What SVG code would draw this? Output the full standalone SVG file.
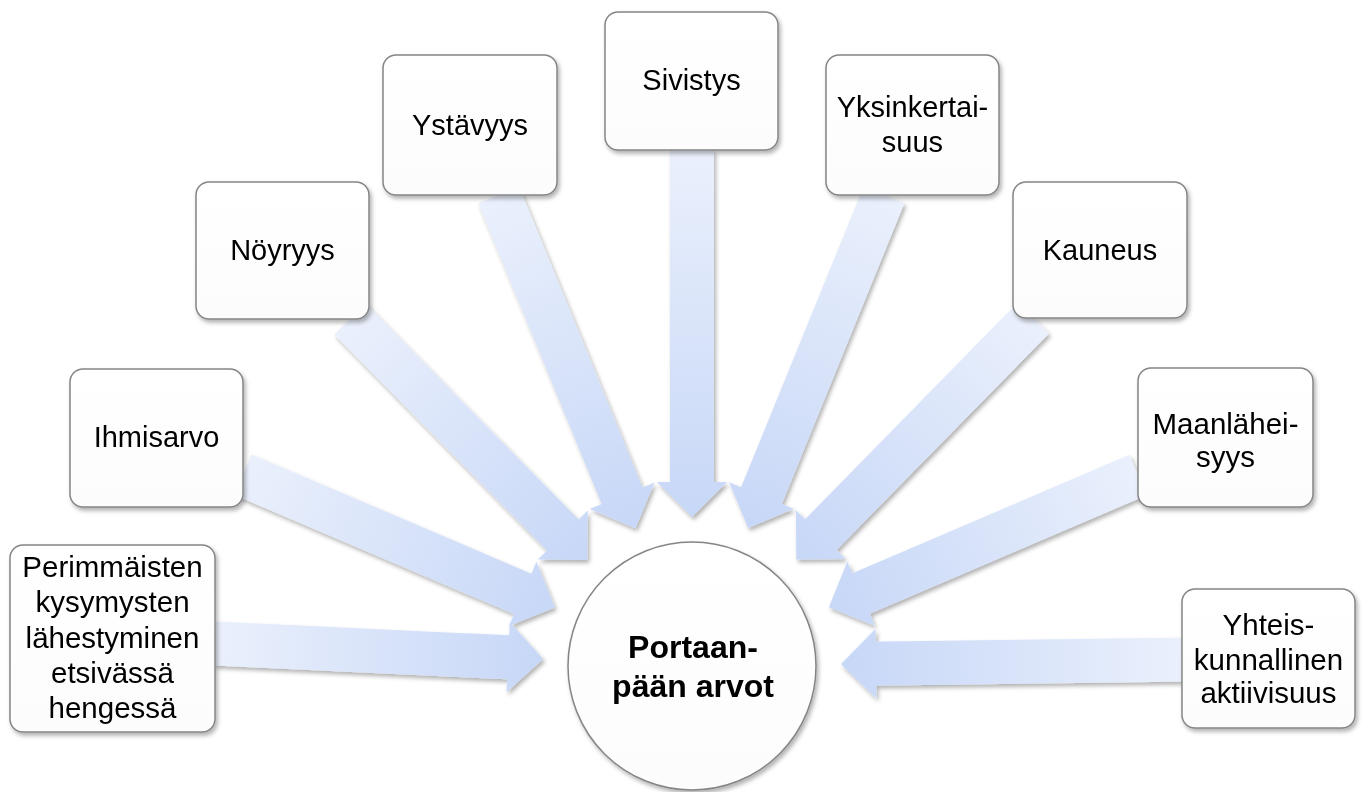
<svg xmlns="http://www.w3.org/2000/svg" width="1365" height="792" viewBox="0 0 1365 792">
<style>
.box{fill:url(#bg);stroke:#858585;stroke-width:1.5}
.t{font-family:"Liberation Sans",Arial,sans-serif;font-size:29px;fill:#000;text-anchor:middle}
.t2{font-size:29.5px}
.c{font-family:"Liberation Sans",Arial,sans-serif;font-size:32px;font-weight:bold;fill:#000;text-anchor:middle}
.arr{fill:url(#ag)}
</style>
<defs>
<linearGradient id="ag" x1="0" y1="0" x2="1" y2="0">
<stop offset="0" stop-color="#eaf0fc"/>
<stop offset="1" stop-color="#c7d7f7"/>
</linearGradient>
<linearGradient id="bg" x1="0" y1="0" x2="0" y2="1">
<stop offset="0" stop-color="#ffffff"/>
<stop offset="1" stop-color="#fcfcfc"/>
</linearGradient>
<filter id="sh" x="-10%" y="-10%" width="130%" height="130%">
<feDropShadow dx="2" dy="3" stdDeviation="2" flood-color="#000" flood-opacity="0.3"/>
</filter>
</defs>
<g id="connectors" filter="url(#sh)">
<path class="arr" transform="translate(215,643.4) rotate(2.72)" d="M0,-22 H293.5 V-35 L328.5,0 L293.5,35 V22 H0 Z"/>
<path class="arr" transform="translate(243,474.8) rotate(23.06)" d="M0,-22 H304 V-35 L339,0 L304,35 V22 H0 Z"/>
<path class="arr" transform="translate(350,319) rotate(45.42)" d="M0,-22 H303.2 V-35 L338.2,0 L303.2,35 V22 H0 Z"/>
<path class="arr" transform="translate(498.7,195) rotate(67.69)" d="M0,-22 H325.1 V-35 L360.1,0 L325.1,35 V22 H0 Z"/>
<path class="arr" transform="translate(692,150) rotate(90)" d="M0,-22 H332 V-35 L367,0 L332,35 V22 H0 Z"/>
<path class="arr" transform="translate(884,195) rotate(112.18)" d="M0,-22 H324.6 V-35 L359.6,0 L324.6,35 V22 H0 Z"/>
<path class="arr" transform="translate(1033.3,318) rotate(134.45)" d="M0,-22 H303.4 V-35 L338.4,0 L303.4,35 V22 H0 Z"/>
<path class="arr" transform="translate(1138,475) rotate(156.82)" d="M0,-22 H301.2 V-35 L336.2,0 L301.2,35 V22 H0 Z"/>
<path class="arr" transform="translate(1182,659.6) rotate(179.25)" d="M0,-22 H306 V-35 L341,0 L306,35 V22 H0 Z"/>
</g>
<g id="center" filter="url(#sh)">
<circle cx="692" cy="666" r="124" class="box"/>
<text class="c" x="693" y="658">Portaan-</text>
<text class="c" x="693" y="697">pään arvot</text>
</g>
<g id="n1" filter="url(#sh)">
<rect class="box" x="10" y="545" width="205" height="187" rx="13"/>
<text class="t t2" x="112.5" y="577">Perimmäisten</text>
<text class="t t2" x="112.5" y="612">kysymysten</text>
<text class="t t2" x="112.5" y="648">lähestyminen</text>
<text class="t t2" x="112.5" y="683">etsivässä</text>
<text class="t t2" x="112.5" y="718">hengessä</text>
</g>
<g id="n2" filter="url(#sh)">
<rect class="box" x="70" y="369" width="173" height="138" rx="13"/>
<text class="t" x="156.5" y="447">Ihmisarvo</text>
</g>
<g id="n3" filter="url(#sh)">
<rect class="box" x="196" y="182" width="173" height="137" rx="13"/>
<text class="t" x="282.5" y="260">Nöyryys</text>
</g>
<g id="n4" filter="url(#sh)">
<rect class="box" x="383" y="55" width="174" height="140" rx="13"/>
<text class="t" x="470" y="135">Ystävyys</text>
</g>
<g id="n5" filter="url(#sh)">
<rect class="box" x="605" y="12" width="173" height="138" rx="13"/>
<text class="t" x="691.5" y="90">Sivistys</text>
</g>
<g id="n6" filter="url(#sh)">
<rect class="box" x="826" y="55" width="173" height="140" rx="13"/>
<text class="t" x="912.5" y="117">Yksinkertai-</text>
<text class="t" x="912.5" y="152">suus</text>
</g>
<g id="n7" filter="url(#sh)">
<rect class="box" x="1013" y="182" width="174" height="136" rx="13"/>
<text class="t" x="1100" y="260">Kauneus</text>
</g>
<g id="n8" filter="url(#sh)">
<rect class="box" x="1138" y="368" width="175" height="139" rx="13"/>
<text class="t t2" x="1225.5" y="434">Maanlähei-</text>
<text class="t t2" x="1225.5" y="467">syys</text>
</g>
<g id="n9" filter="url(#sh)">
<rect class="box" x="1182" y="589" width="173" height="139" rx="13"/>
<text class="t t2" x="1268.5" y="635">Yhteis-</text>
<text class="t t2" x="1268.5" y="670">kunnallinen</text>
<text class="t t2" x="1268.5" y="703">aktiivisuus</text>
</g>
</svg>
